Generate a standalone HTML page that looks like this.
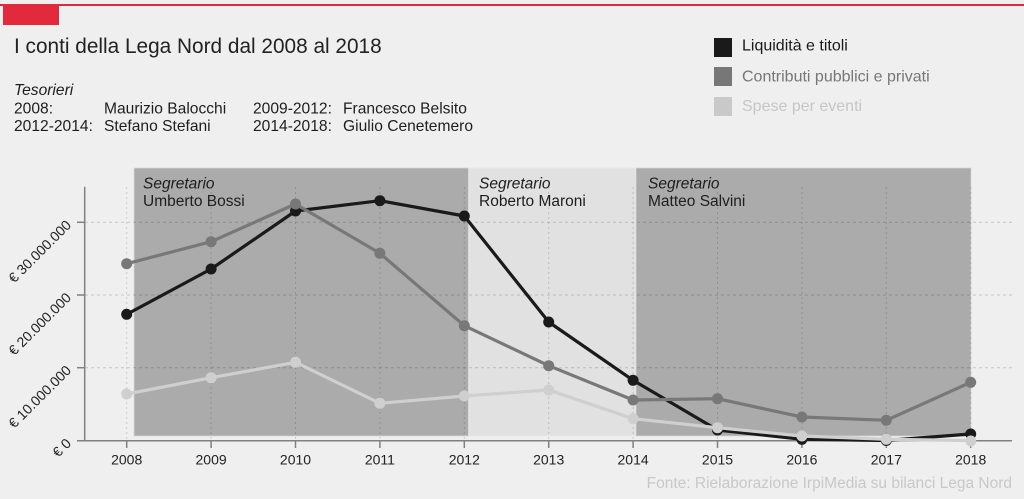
<!DOCTYPE html>
<html>
<head>
<meta charset="utf-8">
<style>
html,body{margin:0;padding:0;background:#efefef;}
body{width:1024px;height:499px;overflow:hidden;}
svg{display:block;font-family:"Liberation Sans",sans-serif;}
</style>
</head>
<body>
<svg width="1024" height="499" viewBox="0 0 1024 499" xmlns="http://www.w3.org/2000/svg">
<rect x="0" y="0" width="1024" height="499" fill="#efefef"/>
<!-- top red bar -->
<rect x="0" y="4" width="1024" height="2" fill="#e32a3d"/>
<rect x="3" y="4" width="56" height="21" fill="#e32a3d"/>

<!-- title -->
<text x="14" y="53" font-size="20.8" fill="#222">I conti della Lega Nord dal 2008 al 2018</text>

<!-- tesorieri -->
<g font-size="15.6" fill="#1e1e1e">
<text x="14" y="95" font-style="italic">Tesorieri</text>
<text x="14" y="113.5">2008:</text>
<text x="104" y="113.5">Maurizio Balocchi</text>
<text x="253" y="113.5">2009-2012:</text>
<text x="343" y="113.5">Francesco Belsito</text>
<text x="14" y="131">2012-2014:</text>
<text x="104" y="131">Stefano Stefani</text>
<text x="253" y="131">2014-2018:</text>
<text x="343" y="131">Giulio Cenetemero</text>
</g>

<!-- legend -->
<rect x="714" y="38" width="18" height="19" fill="#1a1a1a"/>
<rect x="714" y="67" width="18" height="19" fill="#777777"/>
<rect x="714" y="97" width="18" height="19" fill="#c9c9c9"/>
<g font-size="16">
<text x="742" y="50.5" fill="#1a1a1a">Liquidità e titoli</text>
<text x="742" y="81.5" fill="#777777">Contributi pubblici e privati</text>
<text x="742" y="111" fill="#c6c6c6">Spese per eventi</text>
</g>

<!-- shading -->
<rect x="134" y="168" width="334.5" height="268" fill="#ababab" stroke="#d8d8d8" stroke-width="0.8"/>
<rect x="469" y="168" width="166" height="268" fill="#e1e1e1" stroke="#e8e8e8" stroke-width="0.8"/>
<rect x="636" y="168" width="335" height="268" fill="#ababab" stroke="#d8d8d8" stroke-width="0.8"/>

<!-- gridlines -->
<g stroke="rgba(0,0,0,0.17)" stroke-width="1" stroke-dasharray="3 3">
<line x1="85" y1="222.3" x2="1012" y2="222.3"/>
<line x1="85" y1="295" x2="1012" y2="295"/>
<line x1="85" y1="367.7" x2="1012" y2="367.7"/>
</g>
<g stroke="rgba(0,0,0,0.15)" stroke-width="1" stroke-dasharray="2 3">
<line x1="126.7" y1="187" x2="126.7" y2="440"/>
<line x1="211.1" y1="187" x2="211.1" y2="440"/>
<line x1="295.5" y1="187" x2="295.5" y2="440"/>
<line x1="379.9" y1="187" x2="379.9" y2="440"/>
<line x1="464.3" y1="187" x2="464.3" y2="440"/>
<line x1="548.7" y1="187" x2="548.7" y2="440"/>
<line x1="633.1" y1="187" x2="633.1" y2="440"/>
<line x1="717.5" y1="187" x2="717.5" y2="440"/>
<line x1="801.9" y1="187" x2="801.9" y2="440"/>
<line x1="886.3" y1="187" x2="886.3" y2="440"/>
<line x1="970.7" y1="187" x2="970.7" y2="440"/>
</g>

<!-- segretario labels -->
<g font-size="15.5" fill="#1e1e1e">
<text x="143" y="188.5" font-style="italic">Segretario</text>
<text x="143" y="206">Umberto Bossi</text>
<text x="479" y="188.5" font-style="italic">Segretario</text>
<text x="479" y="206">Roberto Maroni</text>
<text x="648" y="188.5" font-style="italic">Segretario</text>
<text x="648" y="206">Matteo Salvini</text>
</g>

<!-- axes -->
<g stroke="#808080" stroke-width="1.5">
<line x1="84.7" y1="186.7" x2="84.7" y2="441"/>
<line x1="77" y1="440.7" x2="1012" y2="440.7"/>
<line x1="77" y1="222.3" x2="85" y2="222.3"/>
<line x1="77" y1="295" x2="85" y2="295"/>
<line x1="77" y1="367.7" x2="85" y2="367.7"/>
<line x1="126.7" y1="441" x2="126.7" y2="448"/>
<line x1="211.1" y1="441" x2="211.1" y2="448"/>
<line x1="295.5" y1="441" x2="295.5" y2="448"/>
<line x1="379.9" y1="441" x2="379.9" y2="448"/>
<line x1="464.3" y1="441" x2="464.3" y2="448"/>
<line x1="548.7" y1="441" x2="548.7" y2="448"/>
<line x1="633.1" y1="441" x2="633.1" y2="448"/>
<line x1="717.5" y1="441" x2="717.5" y2="448"/>
<line x1="801.9" y1="441" x2="801.9" y2="448"/>
<line x1="886.3" y1="441" x2="886.3" y2="448"/>
<line x1="970.7" y1="441" x2="970.7" y2="448"/>
</g>

<!-- x labels -->
<g font-size="14" fill="#222" text-anchor="middle">
<text x="126.7" y="464.3">2008</text>
<text x="211.1" y="464.3">2009</text>
<text x="295.5" y="464.3">2010</text>
<text x="379.9" y="464.3">2011</text>
<text x="464.3" y="464.3">2012</text>
<text x="548.7" y="464.3">2013</text>
<text x="633.1" y="464.3">2014</text>
<text x="717.5" y="464.3">2015</text>
<text x="801.9" y="464.3">2016</text>
<text x="886.3" y="464.3">2017</text>
<text x="970.7" y="464.3">2018</text>
</g>

<!-- y labels -->
<g font-size="14" fill="#222" text-anchor="end">
<text transform="translate(72,226) rotate(-45)">€ 30.000.000</text>
<text transform="translate(72,298.5) rotate(-45)">€ 20.000.000</text>
<text transform="translate(72,371.2) rotate(-45)">€ 10.000.000</text>
<text transform="translate(72,444.2) rotate(-45)">€ 0</text>
</g>

<!-- series: black -->
<g fill="#1a1a1a">
<polyline fill="none" stroke="#1a1a1a" stroke-width="3.2" stroke-linejoin="round" points="126.7,314.3 211.1,269 295.5,211 379.9,200.7 464.3,216 548.7,322 633.1,380.3 717.5,430 801.9,439.3 886.3,440.5 970.7,434"/>
<circle cx="126.7" cy="314.3" r="5.5"/>
<circle cx="211.1" cy="269" r="5.5"/>
<circle cx="295.5" cy="211" r="5.5"/>
<circle cx="379.9" cy="200.7" r="5.5"/>
<circle cx="464.3" cy="216" r="5.5"/>
<circle cx="548.7" cy="322" r="5.5"/>
<circle cx="633.1" cy="380.3" r="5.5"/>
<circle cx="717.5" cy="430" r="5.5"/>
<circle cx="801.9" cy="439.3" r="5.5"/>
<circle cx="886.3" cy="440.5" r="5.5"/>
<circle cx="970.7" cy="434" r="5.5"/>
</g>
<!-- series: dark gray -->
<g fill="#787878">
<polyline fill="none" stroke="#787878" stroke-width="3.2" stroke-linejoin="round" points="126.7,263.7 211.1,241.7 295.5,204 379.9,253.3 464.3,325.7 548.7,365.7 633.1,400 717.5,398.7 801.9,417 886.3,420.3 970.7,382.3"/>
<circle cx="126.7" cy="263.7" r="5.5"/>
<circle cx="211.1" cy="241.7" r="5.5"/>
<circle cx="295.5" cy="204" r="5.5"/>
<circle cx="379.9" cy="253.3" r="5.5"/>
<circle cx="464.3" cy="325.7" r="5.5"/>
<circle cx="548.7" cy="365.7" r="5.5"/>
<circle cx="633.1" cy="400" r="5.5"/>
<circle cx="717.5" cy="398.7" r="5.5"/>
<circle cx="801.9" cy="417" r="5.5"/>
<circle cx="886.3" cy="420.3" r="5.5"/>
<circle cx="970.7" cy="382.3" r="5.5"/>
</g>
<!-- series: light gray -->
<g fill="#cfcfcf">
<polyline fill="none" stroke="#cfcfcf" stroke-width="3.2" stroke-linejoin="round" points="126.7,394 211.1,377.7 295.5,362.3 379.9,403.3 464.3,396 548.7,390 633.1,418.7 717.5,427.7 801.9,436 886.3,439.3 970.7,440.5"/>
<circle cx="126.7" cy="394" r="5.5"/>
<circle cx="211.1" cy="377.7" r="5.5"/>
<circle cx="295.5" cy="362.3" r="5.5"/>
<circle cx="379.9" cy="403.3" r="5.5"/>
<circle cx="464.3" cy="396" r="5.5"/>
<circle cx="548.7" cy="390" r="5.5"/>
<circle cx="633.1" cy="418.7" r="5.5"/>
<circle cx="717.5" cy="427.7" r="5.5"/>
<circle cx="801.9" cy="436" r="5.5"/>
<circle cx="886.3" cy="439.3" r="5.5"/>
<circle cx="970.7" cy="441" r="5.5"/>
</g>

<!-- source -->
<text x="1012" y="488" font-size="15.5" fill="#c8c8c8" text-anchor="end">Fonte: Rielaborazione IrpiMedia su bilanci Lega Nord</text>
</svg>
</body>
</html>
